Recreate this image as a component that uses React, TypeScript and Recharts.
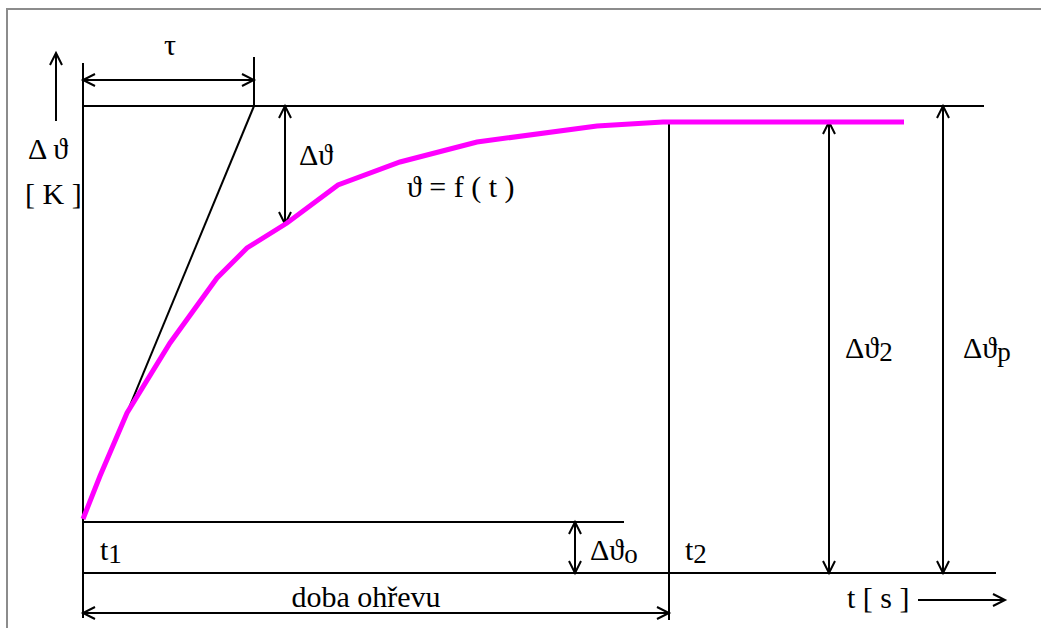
import React from 'react';
import { LineChart, Line, XAxis, YAxis, ReferenceLine, ReferenceDot } from 'recharts';

// průběh oteplení ϑ = f(t) (čas v jednotkách osy, oteplení v jednotkách osy)
const time = [0, 1.7, 4.4, 8.7, 13.4, 16.4, 20.4, 25.5, 31.7, 39.4, 51.4, 58, 82.1];
const temp = [10.8, 19.4, 32, 46, 59, 65, 70, 77.6, 82.2, 86.2, 89.4, 90.2, 90.2];

// charakteristické hodnoty
const theta0 = 10.2; // Δϑo
const theta2 = 90.2; // Δϑ2
const thetaP = 93.4; // Δϑp
const tau = 17.1;
const t2 = 58.6;

const curveData = time.map((t, i) => ({ t, v: temp[i] }));
const tangentData = [
    { t: 0, v: temp[0] },
    { t: tau, v: thetaP },
];

const FONT = '"Liberation Serif", "DejaVu Serif", serif';
const INK = '#000';

type Heads = 'none' | 'start' | 'end' | 'both';

const head = (tipX: number, tipY: number, fromX: number, fromY: number) => {
    const dx = tipX - fromX;
    const dy = tipY - fromY;
    const len = Math.hypot(dx, dy) || 1;
    const ux = dx / len;
    const uy = dy / len;
    const L = 12;
    const W = 6;
    const bx = tipX - ux * L;
    const by = tipY - uy * L;
    return `${bx - uy * W},${by + ux * W} ${tipX},${tipY} ${bx + uy * W},${by - ux * W}`;
};

const arrowShape = (heads: Heads) => (props: any) => {
    const { x1, y1, x2, y2 } = props;
    return (
        <g>
            <line x1={x1} y1={y1} x2={x2} y2={y2} stroke={INK} strokeWidth={2} />
            {(heads === 'start' || heads === 'both') && (
                <polyline points={head(x1, y1, x2, y2)} fill="none" stroke={INK} strokeWidth={2} />
            )}
            {(heads === 'end' || heads === 'both') && (
                <polyline points={head(x2, y2, x1, y1)} fill="none" stroke={INK} strokeWidth={2} />
            )}
        </g>
    );
};

// čáry a kóty: [x1, y1, x2, y2, hroty]
const segments: [number, number, number, number, Heads][] = [
    [0, 102, 0, -9, 'none'],
    [0, thetaP, 90.1, thetaP, 'none'],
    [0, 0, 91.3, 0, 'none'],
    [0, theta0, 54.1, theta0, 'none'],
    [tau, thetaP, tau, 103.2, 'none'],
    [t2, theta2, t2, -9.4, 'none'],
    [-2.7, 90.4, -2.7, 104, 'end'],
    [0, 98.6, tau, 98.6, 'both'],
    [20.2, thetaP, 20.2, 69.8, 'both'],
    [74.6, theta2, 74.6, 0, 'both'],
    [86, thetaP, 86, 0, 'both'],
    [49.2, theta0, 49.2, 0, 'both'],
    [0, -8, t2, -8, 'both'],
    [83.5, -5.4, 92.2, -5.4, 'end'],
];

// popisky: [x, y, text, index, zarovnání]
const labels: [number, number, string, string, 'start' | 'middle'][] = [
    [8.7, 103.6, 'τ', '', 'middle'],
    [-5.5, 82.8, 'Δ ϑ', '', 'start'],
    [-5.8, 73.8, '[ K ]', '', 'start'],
    [21.6, 81.6, 'Δϑ', '', 'start'],
    [32.4, 75.2, 'ϑ = f ( t )', '', 'start'],
    [76.2, 43, 'Δϑ', '2', 'start'],
    [88, 43, 'Δϑ', 'p', 'start'],
    [1.7, 2.6, 't', '1', 'start'],
    [50.7, 2.6, 'Δϑ', 'o', 'start'],
    [60.2, 2.6, 't', '2', 'start'],
    [28.3, -6.8, 'doba ohřevu', '', 'middle'],
    [76.4, -7, 't [ s ]', '', 'start'],
];

const textShape = (text: string, sub: string, anchor: 'start' | 'middle') => (props: any) => (
    <text x={props.cx} y={props.cy} style={{ fontFamily: FONT }} fontSize={30} fill={INK} textAnchor={anchor}>
        {text}
        {sub && (
            <tspan dy={3} fontSize={27}>
                {sub}
            </tspan>
        )}
    </text>
);

export default function App() {
    return (
        <div style={{ position: 'absolute', left: 0, top: 0, width: 1041, height: 628, background: '#fff' }}>
            {/* šedý rámeček */}
            <div
                style={{
                    position: 'absolute',
                    left: 6,
                    top: 8,
                    width: 1035,
                    height: 620,
                    borderLeft: '2px solid #8c8c8c',
                    borderTop: '2px solid #8c8c8c',
                }}
            />
            <div style={{ position: 'absolute', left: 0, top: 0 }}>
                <LineChart width={1041} height={628} margin={{ top: 53, right: 28, bottom: 5, left: 3 }}>
                    <XAxis type="number" dataKey="t" domain={[-8, 93]} allowDataOverflow hide />
                    <YAxis type="number" dataKey="v" domain={[-10, 104]} allowDataOverflow hide />
                    {segments.map(([x1, y1, x2, y2, h], i) => (
                        <ReferenceLine
                            key={`s${i}`}
                            segment={[{ x: x1, y: y1 }, { x: x2, y: y2 }]}
                            ifOverflow="visible"
                            shape={arrowShape(h)}
                        />
                    ))}
                    <Line
                        data={tangentData}
                        dataKey="v"
                        type="linear"
                        stroke={INK}
                        strokeWidth={2}
                        dot={false}
                        isAnimationActive={false}
                    />
                    <Line
                        data={curveData}
                        dataKey="v"
                        type="linear"
                        stroke="#ff00ff"
                        strokeWidth={5}
                        dot={false}
                        isAnimationActive={false}
                    />
                    {labels.map(([x, y, text, sub, anchor], i) => (
                        <ReferenceDot
                            key={`l${i}`}
                            x={x}
                            y={y}
                            r={1}
                            ifOverflow="visible"
                            shape={textShape(text, sub, anchor)}
                        />
                    ))}
                </LineChart>
            </div>
        </div>
    );
}
